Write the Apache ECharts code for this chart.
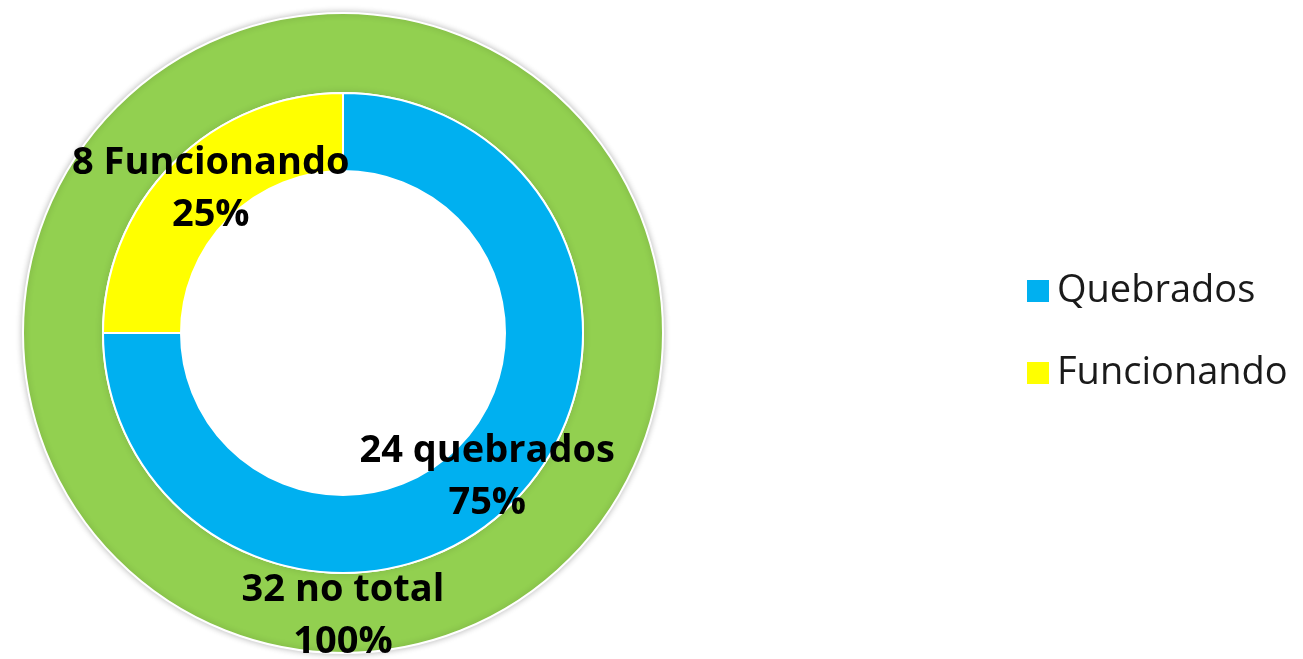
<!DOCTYPE html>
<html>
<head>
<meta charset="utf-8">
<script src="https://cdn.jsdelivr.net/npm/echarts@6/dist/echarts.min.js"></script>
<style>
  html, body { margin: 0; padding: 0; background: #fff; }
  #chart { width: 1303px; height: 659px; }
</style>
</head>
<body>
<div id="chart"></div>
<script>
// inner ring: broken vs working
var categories = ['Quebrados', 'Funcionando'];
var counts = [24, 8];
var labelWords = ['quebrados', 'Funcionando'];
var colors = ['#00B0F0', '#FFFF00'];

// outer ring: the total
var totalName = 'Total';
var totalValue = [32];
var totalWords = 'no total';
var totalColor = '#92D050';

var myChart = echarts.init(document.getElementById('chart'));

// Excel put the small label a bit to the right of the slice middle
var labelNudge = [[0, 0], [12, 0]];

var innerData = [];
for (var i = 0; i < categories.length; i++) {
  innerData.push({
    name: categories[i],
    value: counts[i],
    itemStyle: { color: colors[i] },
    label: { offset: labelNudge[i] }
  });
}

var labelStyle = {
  show: true,
  position: 'inside',
  color: '#000',
  fontFamily: 'Open Sans',
  fontWeight: 'bold',
  fontSize: 38,
  lineHeight: 52
};

myChart.setOption({
  animation: false,
  backgroundColor: '#fff',
  legend: {
    data: categories,
    orient: 'vertical',
    left: 1020,
    top: 266,
    icon: 'rect',
    itemWidth: 24,
    itemHeight: 24,
    itemGap: 42,
    textStyle: {
      color: '#1a1a1a',
      fontFamily: 'Open Sans',
      fontSize: 38,
      lineHeight: 40,
      padding: [0, 0, 0, 2]
    }
  },
  series: [
    {
      name: totalName,
      type: 'pie',
      center: [343, 333],
      radius: [240, 320],
      silent: true,
      itemStyle: {
        color: totalColor,
        borderColor: '#fff',
        borderWidth: 2,
        shadowBlur: 6,
        shadowColor: 'rgba(0,0,0,0.25)'
      },
      label: Object.assign({}, labelStyle, {
        formatter: function (p) {
          return p.value + ' ' + totalWords + '\n' + p.percent + '%';
        }
      }),
      labelLine: { show: false },
      data: [{ name: totalName, value: totalValue[0] }]
    },
    {
      name: 'Status',
      type: 'pie',
      center: [343, 333],
      radius: [162, 240],
      startAngle: 90,
      clockwise: true,
      itemStyle: {
        borderColor: '#fff',
        borderWidth: 2
      },
      label: Object.assign({}, labelStyle, {
        formatter: function (p) {
          return p.value + ' ' + labelWords[p.dataIndex] + '\n' + p.percent + '%';
        }
      }),
      labelLine: { show: false },
      emphasis: { disabled: true },
      data: innerData
    }
  ]
});
</script>
</body>
</html>
